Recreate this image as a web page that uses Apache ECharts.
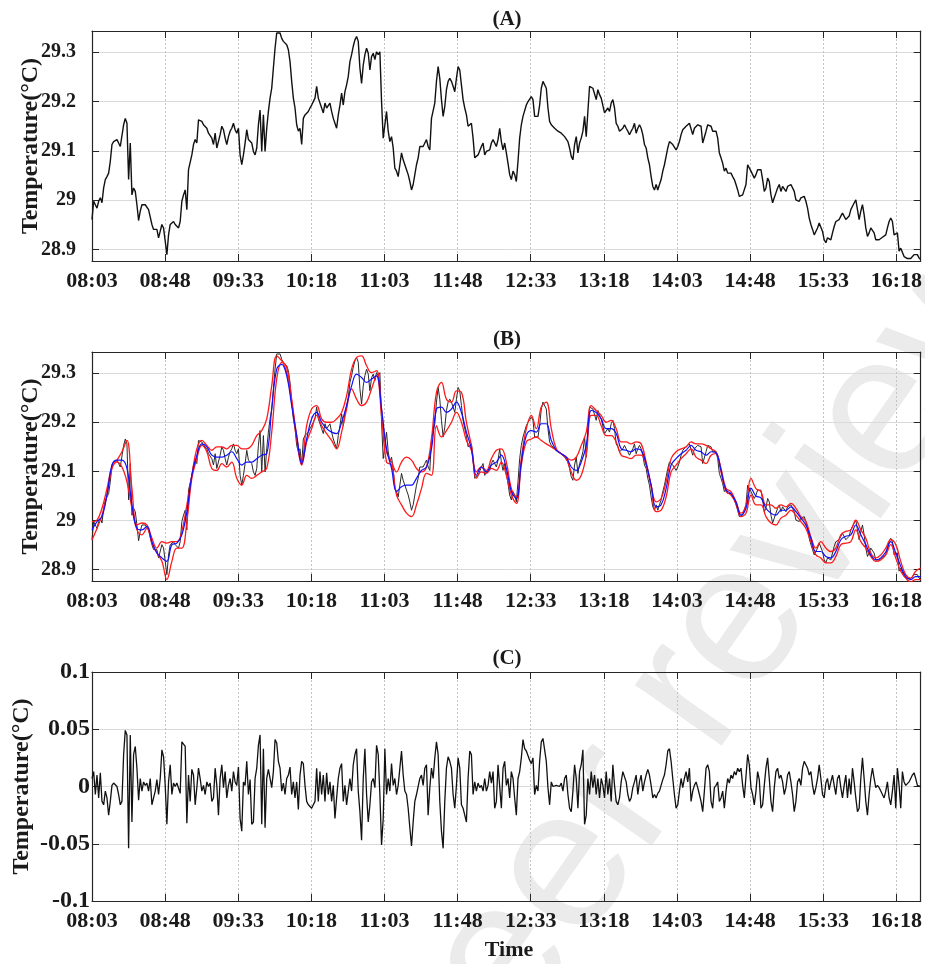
<!DOCTYPE html>
<html><head><meta charset="utf-8">
<script src="https://cdn.jsdelivr.net/npm/echarts/dist/echarts.min.js"></script>
<style>html,body{margin:0;padding:0;background:#fff}#chart{width:925px;height:964px}</style>
</head><body><div id="chart"></div>
<script>
// ---- tick labels (time axis, every 45 min from 08:03) ----
const tickLabels = ['08:03','08:48','09:33','10:18','11:03','11:48','12:33','13:18','14:03','14:48','15:33','16:18'];
const tickStepMin = 45;
const timeSpanMin = 510;   // 08:03 -> ~16:33

// ---- (A) raw temperature, regularly sampled over the span ----
const tempRaw = [
28.961,28.998,28.995,28.984,28.998,29.005,28.995,29.025,29.042,29.048,
29.055,29.079,29.113,29.119,29.123,29.123,29.116,29.109,29.109,29.153,
29.166,29.156,29.042,29.116,29.011,29.025,29.018,28.991,28.959,28.978,
28.991,28.995,28.991,28.995,28.981,28.984,28.951,28.941,28.937,28.941,
28.924,28.920,28.951,28.944,28.917,28.890,28.930,28.951,28.947,28.957,
28.951,28.954,28.944,28.957,28.998,29.011,29.021,28.981,29.062,29.065,
29.092,29.113,29.123,29.116,29.163,29.160,29.160,29.153,29.156,29.146,
29.136,29.140,29.126,29.113,29.136,29.106,29.102,29.133,29.150,29.143,
29.126,29.113,29.129,29.140,29.146,29.156,29.143,29.136,29.146,29.092,
29.072,29.092,29.116,29.143,29.123,29.126,29.116,29.099,29.092,29.106,
29.153,29.183,29.099,29.173,29.099,29.146,29.180,29.207,29.227,29.268,
29.308,29.339,29.342,29.339,29.328,29.322,29.318,29.315,29.305,29.281,
29.241,29.207,29.187,29.153,29.140,29.146,29.113,29.166,29.173,29.170,
29.180,29.187,29.193,29.200,29.207,29.231,29.207,29.210,29.187,29.177,
29.197,29.187,29.183,29.197,29.180,29.166,29.156,29.146,29.173,29.193,
29.217,29.193,29.220,29.234,29.251,29.281,29.295,29.312,29.325,29.332,
29.322,29.268,29.237,29.274,29.295,29.308,29.298,29.264,29.291,29.298,
29.285,29.301,29.295,29.301,29.200,29.126,29.153,29.180,29.140,29.119,
29.129,29.106,29.065,29.059,29.048,29.072,29.096,29.082,29.072,29.062,
29.052,29.038,29.021,29.032,29.052,29.072,29.086,29.109,29.113,29.109,
29.116,29.123,29.109,29.102,29.166,29.170,29.197,29.241,29.271,29.247,
29.204,29.170,29.190,29.224,29.241,29.247,29.241,29.231,29.220,29.247,
29.271,29.264,29.234,29.204,29.187,29.173,29.150,29.153,29.156,29.126,
29.086,29.089,29.092,29.089,29.109,29.116,29.092,29.099,29.096,29.102,
29.116,29.123,29.119,29.109,29.123,
29.146,29.119,29.102,29.116,29.096,29.075,29.052,29.042,29.059,29.052,
29.038,29.079,29.126,29.153,29.170,29.173,29.193,29.200,29.204,29.210,
29.204,29.170,29.173,29.170,29.193,29.227,29.241,29.241,29.227,29.187,
29.160,29.153,29.150,29.146,29.143,29.140,29.140,29.136,29.136,29.129,
29.126,29.119,29.106,29.089,29.082,29.113,29.129,29.096,29.116,29.126,
29.140,29.170,29.129,29.180,29.231,29.227,29.227,29.224,29.204,29.224,
29.214,29.207,29.204,29.177,29.180,29.187,29.180,29.197,29.204,29.187,
29.156,29.150,29.140,29.140,29.146,29.153,29.146,29.140,29.133,29.140,
29.146,29.156,29.136,29.146,29.153,29.146,29.133,29.113,29.106,29.086,
29.072,29.048,29.028,29.021,29.032,29.021,29.032,29.042,29.059,29.072,
29.089,29.106,29.119,29.116,29.113,29.109,29.102,29.109,29.119,29.133,
29.143,29.140,29.150,29.153,29.156,29.160,29.133,29.146,29.150,29.153,
29.150,29.150,29.116,29.113,29.140,29.153,29.156,29.150,29.140,29.140,
29.140,29.126,29.096,29.086,29.075,29.059,29.065,29.055,29.059,29.055,
29.048,29.042,29.032,29.021,29.008,29.011,29.011,29.015,29.032,29.072,
29.069,29.059,29.052,29.045,29.052,29.062,29.062,29.062,29.042,29.018,
29.025,29.045,29.038,29.011,28.995,29.005,29.015,29.025,29.032,29.018,
29.028,29.025,29.018,29.028,29.025,29.032,29.032,29.018,29.001,28.998,
28.998,29.005,29.008,29.008,28.998,28.984,28.964,28.951,28.941,28.930,
28.927,28.944,28.954,28.957,28.937,28.920,28.914,28.924,28.920,28.920,
28.934,28.947,28.957,28.954,28.961,28.968,28.974,28.971,28.961,28.964,
28.968,28.981,28.988,28.991,29.001,28.981,28.961,28.978,28.991,28.971,
28.944,28.927,28.934,28.944,28.947,28.934,28.920,28.917,28.920,28.922,
28.925,28.927,28.930,28.944,28.957,28.964,28.957,28.930,28.934,28.934,
28.897,28.903,28.903,28.886,28.883,28.882,28.880,28.882,28.886,28.890,
28.891,28.890,28.883,28.880
];

// ---- (B) upper envelope, lower envelope, envelope mean ----
const envUpper = [
28.998,29.001,29.025,29.065,29.109,29.123,29.140,29.163,29.065,28.991,
28.995,28.991,28.964,28.944,28.957,28.954,28.957,28.957,28.978,29.032,
29.092,29.146,29.163,29.153,29.143,29.150,29.150,29.146,29.153,29.153,
29.146,29.146,29.153,29.173,29.183,29.207,29.274,29.335,29.325,29.312,
29.247,29.173,29.119,29.193,29.227,29.234,29.207,29.200,29.200,29.207,
29.220,29.254,29.308,29.332,29.335,29.315,29.301,29.305,29.227,29.140,
29.119,29.099,29.119,29.129,29.123,29.106,29.099,29.109,29.166,29.261,
29.281,29.247,29.241,29.264,29.261,29.200,29.153,29.099,29.109,29.102,
29.126,29.143,
29.146,29.119,29.065,29.048,29.126,29.187,29.214,29.187,29.231,29.241,
29.187,29.146,29.136,29.129,29.123,29.129,29.153,29.180,29.234,29.224,
29.214,29.200,29.204,29.187,29.160,29.160,29.156,29.160,29.156,29.119,
29.072,29.038,29.045,29.079,29.126,29.140,29.146,29.150,29.160,29.156,
29.156,29.153,29.146,29.140,29.106,29.065,29.059,29.038,29.015,29.032,
29.086,29.065,29.059,29.032,29.032,29.025,29.032,29.028,29.035,29.025,
29.008,28.998,28.967,28.944,28.957,28.944,28.937,28.944,28.971,28.978,
28.981,29.001,28.981,28.964,28.934,28.924,28.930,28.944,28.961,28.951,
28.917,28.890,28.883,28.897,28.903
];
const envLower = [
28.961,28.984,29.011,29.052,29.106,29.119,29.109,29.079,29.025,28.981,
28.971,28.984,28.954,28.934,28.917,28.880,28.917,28.944,28.944,28.998,
29.086,29.126,29.153,29.140,29.106,29.102,29.116,29.109,29.119,29.086,
29.072,29.092,29.086,29.092,29.099,29.106,29.180,29.288,29.322,29.301,
29.241,29.166,29.113,29.160,29.187,29.214,29.193,29.177,29.163,29.146,
29.180,29.227,29.268,29.247,29.234,29.241,29.268,29.295,29.214,29.119,
29.113,29.052,29.032,29.015,29.008,29.032,29.065,29.096,29.092,29.193,
29.170,29.183,29.200,29.220,29.200,29.163,29.143,29.086,29.099,29.096,
29.106,29.102,
29.119,29.092,29.052,29.035,29.113,29.160,29.166,29.170,29.163,29.156,
29.150,29.143,29.136,29.126,29.099,29.082,29.092,29.133,29.214,29.214,
29.193,29.173,29.173,29.160,29.133,29.129,29.126,29.133,29.133,29.113,
29.069,29.018,29.021,29.048,29.099,29.113,29.126,29.136,29.146,29.129,
29.123,29.116,29.133,29.136,29.099,29.059,29.052,29.035,29.008,29.015,
29.052,29.032,29.032,29.008,28.995,28.991,29.005,29.011,29.021,29.011,
28.998,28.984,28.957,28.930,28.924,28.914,28.914,28.927,28.951,28.954,
28.957,28.981,28.957,28.944,28.927,28.917,28.920,28.930,28.951,28.924,
28.897,28.883,28.875,28.880,28.880
];
const envMean = [
28.981,28.998,29.008,29.052,29.113,29.123,29.123,29.106,29.032,28.984,
28.981,28.988,28.957,28.934,28.924,28.917,28.951,28.954,28.971,29.018,
29.092,29.133,29.156,29.150,29.133,29.129,29.129,29.133,29.140,29.126,
29.113,29.119,29.119,29.126,29.133,29.136,29.227,29.308,29.318,29.295,
29.234,29.173,29.116,29.166,29.207,29.220,29.200,29.187,29.180,29.177,
29.200,29.234,29.274,29.298,29.291,29.281,29.288,29.295,29.227,29.146,
29.106,29.059,29.069,29.072,29.072,29.086,29.102,29.109,29.146,29.227,
29.231,29.220,29.227,29.241,29.220,29.180,29.146,29.092,29.109,29.099,
29.113,29.119,
29.133,29.106,29.059,29.045,29.119,29.173,29.183,29.180,29.197,29.197,
29.163,29.143,29.136,29.129,29.109,29.102,29.119,29.153,29.224,29.220,
29.207,29.187,29.187,29.177,29.146,29.143,29.140,29.146,29.143,29.116,
29.072,29.028,29.032,29.065,29.113,29.126,29.136,29.143,29.153,29.143,
29.140,29.133,29.140,29.138,29.102,29.062,29.055,29.038,29.011,29.025,
29.066,29.050,29.046,29.025,29.015,29.011,29.021,29.021,29.028,29.018,
29.005,28.991,28.964,28.937,28.937,28.927,28.924,28.937,28.961,28.968,
28.971,28.991,28.971,28.951,28.930,28.920,28.924,28.936,28.957,28.934,
28.907,28.886,28.880,28.886,28.886
];

// ---- (C) detail component ----
const detail = [
0.007,0.013,-0.007,0.010,-0.010,0.012,-0.013,-0.016,-0.004,-0.010,
-0.025,-0.013,0.001,0.003,0.003,0.000,-0.007,-0.016,-0.013,0.028,
0.049,0.045,-0.054,0.045,-0.031,0.028,0.035,0.016,-0.012,0.007,
-0.004,0.004,0.001,0.003,-0.004,0.007,-0.016,-0.010,-0.004,0.006,
-0.007,0.007,0.032,0.026,0.001,-0.033,0.004,0.019,-0.007,0.003,
0.000,0.003,0.004,-0.006,0.039,0.039,0.035,-0.032,0.010,-0.013,
0.015,0.010,-0.016,-0.001,0.016,0.007,-0.004,0.001,-0.007,0.004,
0.000,0.003,-0.013,-0.010,0.016,0.001,-0.025,0.007,0.019,-0.001,
0.013,-0.010,0.001,0.007,-0.004,0.013,0.004,0.001,0.017,-0.028,
-0.039,0.004,0.001,0.022,-0.007,0.006,-0.033,-0.031,0.007,0.016,
0.036,0.045,-0.033,0.033,-0.036,0.007,0.015,0.007,-0.001,0.013,
0.041,0.038,0.022,0.016,-0.004,0.003,-0.007,0.007,0.010,0.017,
-0.007,0.004,-0.010,0.004,-0.020,0.010,0.022,0.020,0.001,-0.013,
-0.016,-0.017,-0.019,-0.016,-0.013,0.016,-0.013,0.013,-0.007,0.010,
-0.013,0.012,-0.007,0.004,-0.013,0.001,-0.028,-0.010,0.007,0.016,
0.020,-0.013,0.001,-0.016,-0.004,0.007,-0.004,0.019,0.028,0.033,
-0.004,-0.022,-0.047,0.007,0.033,-0.007,-0.031,-0.016,0.004,0.007,
-0.001,0.036,0.028,-0.007,-0.051,-0.028,0.033,-0.007,0.007,-0.004,
0.020,0.001,0.007,-0.007,0.001,0.016,0.031,0.010,-0.004,-0.007,
-0.019,-0.036,-0.052,-0.031,-0.013,-0.007,-0.007,0.007,0.010,0.001,
0.016,0.019,-0.025,-0.001,0.016,0.007,0.025,0.039,0.028,-0.013,
-0.039,-0.054,-0.013,0.016,0.026,0.022,0.016,-0.007,-0.019,0.001,
0.025,0.016,-0.016,-0.019,-0.025,-0.031,0.007,0.031,0.028,-0.007,
0.004,-0.004,0.003,-0.001,0.001,-0.004,0.007,-0.004,0.001,0.013,
0.003,0.013,-0.019,-0.013,0.019,
0.019,-0.019,0.016,0.022,0.001,0.007,-0.010,0.013,0.007,-0.010,
-0.025,0.007,0.013,0.025,0.041,0.033,0.031,0.032,0.023,0.020,
0.025,-0.007,0.001,-0.004,0.022,0.039,0.042,0.041,0.022,-0.001,
-0.016,0.004,0.000,0.000,0.001,0.000,0.000,0.003,-0.004,0.007,
0.010,-0.007,-0.019,-0.022,-0.004,0.019,0.007,-0.019,0.013,0.019,
0.032,-0.033,-0.025,0.007,-0.007,0.013,-0.001,0.010,-0.007,0.007,
-0.010,0.007,0.001,-0.010,0.013,-0.007,0.007,-0.013,0.019,0.001,
-0.013,-0.016,-0.010,0.004,0.013,0.013,0.004,-0.007,-0.013,-0.010,
-0.001,0.004,0.010,-0.007,0.004,0.010,-0.004,0.004,0.010,0.015,
0.010,0.001,-0.010,-0.007,-0.010,-0.006,-0.004,0.001,0.006,0.010,
0.019,0.031,0.033,0.022,0.007,-0.007,-0.019,-0.016,-0.004,0.007,
-0.001,0.007,0.013,0.004,0.016,-0.013,-0.004,0.001,0.004,-0.001,
-0.007,-0.013,-0.022,-0.004,0.016,0.019,0.013,-0.013,-0.019,-0.001,
0.001,0.004,-0.013,-0.010,-0.004,-0.019,-0.004,0.007,0.003,0.010,
0.007,0.013,0.010,0.016,0.013,0.016,0.001,-0.010,-0.010,0.028,
0.019,-0.001,-0.007,-0.016,-0.004,0.013,0.006,-0.019,-0.016,0.001,
0.016,0.025,0.007,-0.013,-0.022,-0.001,0.013,0.016,0.007,0.010,
0.004,-0.007,-0.001,0.010,0.013,0.004,-0.007,-0.022,-0.013,0.004,
0.007,0.001,0.016,0.022,0.019,0.016,0.010,0.013,0.001,-0.007,
-0.001,0.007,0.019,0.007,-0.007,-0.010,0.003,0.007,-0.003,0.004,
0.010,0.001,-0.007,0.007,0.010,-0.001,-0.010,0.001,0.010,-0.010,
0.007,-0.007,0.016,0.004,-0.010,-0.022,-0.019,0.007,0.025,0.007,
-0.013,-0.025,-0.007,0.007,0.016,0.007,-0.001,0.001,-0.001,-0.004,
-0.007,-0.010,-0.004,0.004,-0.010,-0.016,-0.004,0.010,-0.019,0.016,
0.001,-0.019,0.013,0.004,0.001,0.000,0.004,0.007,0.010,0.012,
0.007,0.001,0.000,0.000
];

// ---- helpers ----
const series2D = vals => vals.map((v, i) => [i * timeSpanMin / (vals.length - 1), v]);
const FONT = '"Liberation Serif","Times New Roman",serif';
const TXT = '#1a1a1a';
const AX = '#262626';
const grids = [
  { left: 92, top: 31, width: 830, height: 230 },
  { left: 92, top: 352, width: 830, height: 229 },
  { left: 92, top: 672, width: 830, height: 229 }
];
const tempRange = { min: 28.877, max: 29.343 };
const detailRange = { min: -0.1, max: 0.1 };
const numFmt = v => String(parseFloat(Number(v).toFixed(3)));
const timeFmt = v => {
  const k = Math.round(v / tickStepMin);
  return (Math.abs(v - k * tickStepMin) < 1e-6 && tickLabels[k]) ? tickLabels[k] : '';
};

const xAxes = [], yAxes = [];
for (let g = 0; g < 3; g++) {
  xAxes.push({
    gridIndex: g, type: 'value', min: 0, max: timeSpanMin, interval: tickStepMin,
    axisLine: { show: true, onZero: false, lineStyle: { color: AX, width: 1.2 } },
    axisTick: { show: true, inside: true, length: 7, lineStyle: { color: AX } },
    axisLabel: { formatter: timeFmt, fontFamily: FONT, fontWeight: 'bold', fontSize: 22, color: TXT, margin: 9, showMaxLabel: false },
    splitLine: { show: true, lineStyle: { type: [2, 2], color: '#c4c4c4', width: 1 } }
  });
}
for (let g = 0; g < 3; g++) {
  xAxes.push({
    gridIndex: g, type: 'value', position: 'top', min: 0, max: timeSpanMin, interval: tickStepMin,
    axisLine: { show: true, onZero: false, lineStyle: { color: AX, width: 1.2 } },
    axisTick: { show: true, inside: true, length: 7, lineStyle: { color: AX } },
    axisLabel: { show: false }, splitLine: { show: false }
  });
}
for (let g = 0; g < 3; g++) {
  const isC = g === 2;
  const r = isC ? detailRange : tempRange;
  const base = isC ? { interval: 0.05 } : { minInterval: 0.1, maxInterval: 0.1 };
  yAxes.push(Object.assign({
    gridIndex: g, type: 'value', min: r.min, max: r.max,
    name: 'Temperature(°C)', nameLocation: 'middle', nameGap: isC ? 58 : 49, nameMoveOverlap: false,
    nameTextStyle: { fontFamily: FONT, fontWeight: 'bold', fontSize: 24, color: TXT },
    axisLine: { show: true, onZero: false, lineStyle: { color: AX, width: 1.2 } },
    axisTick: { show: true, inside: true, length: 7, lineStyle: { color: AX } },
    axisLabel: { formatter: numFmt, fontFamily: FONT, fontWeight: 'bold', fontSize: isC ? 24 : 20, color: TXT,
                 margin: isC ? 2 : 16, showMinLabel: isC, showMaxLabel: isC },
    splitLine: { show: true, lineStyle: { color: '#dadada', width: 1 } }
  }, base));
}
for (let g = 0; g < 3; g++) {
  const isC = g === 2;
  const r = isC ? detailRange : tempRange;
  const base = isC ? { interval: 0.05 } : { minInterval: 0.1, maxInterval: 0.1 };
  yAxes.push(Object.assign({
    gridIndex: g, type: 'value', position: 'right', min: r.min, max: r.max,
    axisLine: { show: true, onZero: false, lineStyle: { color: AX, width: 1.2 } },
    axisTick: { show: true, inside: true, length: 7, lineStyle: { color: AX } },
    axisLabel: { show: false }, splitLine: { show: false }
  }, base));
}

const lineS = (xi, yi, vals, color, width, z, smooth) => ({
  type: 'line', xAxisIndex: xi, yAxisIndex: yi, data: series2D(vals),
  showSymbol: false, symbol: 'none', smooth: smooth || false, z: z, silent: true,
  lineStyle: { color: color, width: width }
});

const titleText = (t, y) => ({
  type: 'text', x: 507, y: y, z: 10,
  style: { text: t, fill: TXT, font: 'bold 21px ' + FONT, textAlign: 'center', textVerticalAlign: 'middle' }
});

// watermark (light grey, rotated), drawn behind the plots
const wmAngle = 55 * Math.PI / 180;
const option = {
  animation: false,
  backgroundColor: '#ffffff',
  grid: grids,
  xAxis: xAxes,
  yAxis: yAxes,
  series: [
    lineS(0, 0, tempRaw, '#111111', 1.4, 2),
    lineS(1, 1, tempRaw, '#2a2a2a', 1.0, 2),
    lineS(1, 1, envUpper, '#ff1a1a', 1.3, 3, 0.4),
    lineS(1, 1, envLower, '#ff1a1a', 1.3, 3, 0.4),
    lineS(1, 1, envMean, '#1010ff', 1.2, 4, 0.4),
    lineS(2, 2, detail, '#111111', 1.3, 2)
  ],
  graphic: [
    { type: 'text', x: 489, y: 1156, rotation: wmAngle, z: -100, silent: true,
      style: { text: 'peer reviewed', fill: '#ebebeb', font: '200px "Liberation Sans", Arial, sans-serif',
               textAlign: 'left', textVerticalAlign: 'bottom' } },
    titleText('(A)', 20),
    titleText('(B)', 340),
    titleText('(C)', 659),
    { type: 'text', x: 509, y: 950, z: 10,
      style: { text: 'Time', fill: TXT, font: 'bold 22px ' + FONT, textAlign: 'center', textVerticalAlign: 'middle' } }
  ]
};

const chart = echarts.init(document.getElementById('chart'), null, { renderer: 'canvas' });
chart.setOption(option);
</script>
</body></html>
